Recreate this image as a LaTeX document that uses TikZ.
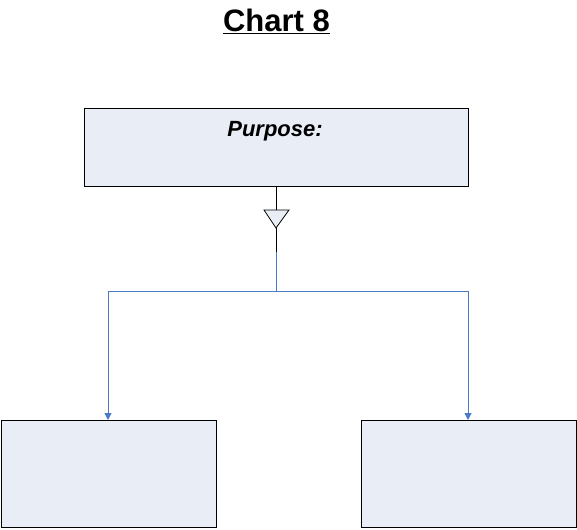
\documentclass[tikz,border=0pt]{standalone}
\usepackage{fontspec}
\setmainfont{Liberation Sans}
\usetikzlibrary{arrows.meta}
\definecolor{boxfill}{HTML}{E9EDF6}
\definecolor{linkblue}{HTML}{4A7BC8}
\begin{document}
\begin{tikzpicture}[x=1pt,y=-1pt,
  chartbox/.style={draw=black,fill=boxfill,line width=1pt,inner sep=0pt,anchor=north west},
  bluelink/.style={draw=linkblue,line width=1pt,-{Triangle[length=7pt,width=7pt]}}]
\useasboundingbox (0,0) rectangle (577,529);
\node[font=\fontsize{31}{34}\selectfont\bfseries,anchor=base,inner sep=0pt] (title) at (276.5,32) {\underline{Chart 8}};
\node[chartbox,minimum width=384pt,minimum height=78pt] (top) at (84,108) {};
\node[font=\fontsize{22}{26}\selectfont\bfseries\itshape,anchor=base,inner sep=0pt] (purpose) at (275,137) {Purpose:};
\node[chartbox,minimum width=215pt,minimum height=107pt] (left) at (1,420) {};
\node[chartbox,minimum width=215pt,minimum height=107pt] (right) at (361,420) {};
\coordinate (tri) at (276,210);
\coordinate (apex) at (276,228);
\coordinate (blackend) at (276,252);
\coordinate (split) at (276,291);
\coordinate (lcorner) at (108,291);
\coordinate (rcorner) at (468,291);
\draw[line width=1pt] (top.south -| tri) -- (tri);
\draw[line width=0.8pt,fill=boxfill] (264,210) -- (289,210) -- (apex) -- cycle;
\draw[line width=1pt] (apex) -- (blackend);
\draw[line width=1pt,linkblue] (blackend) -- (split);
\draw[line width=1pt,linkblue] (lcorner) -- (rcorner);
\draw[bluelink] (lcorner) -- (lcorner |- left.north);
\draw[bluelink] (rcorner) -- (rcorner |- right.north);
\end{tikzpicture}
\end{document}
